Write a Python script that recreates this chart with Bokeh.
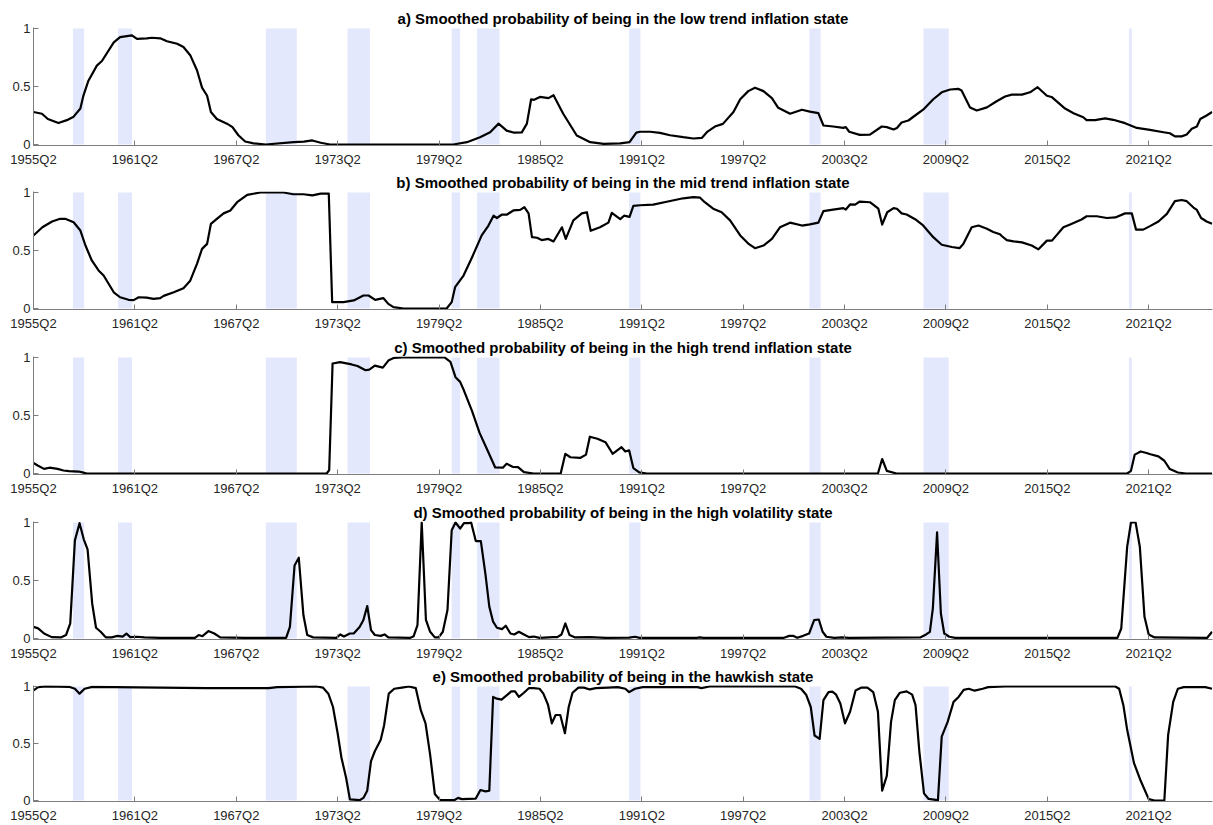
from bokeh.plotting import figure
from bokeh.layouts import column
from bokeh.models import Range1d, FixedTicker
from bokeh.embed import file_html
from bokeh.resources import INLINE

# x values are quarters elapsed since 1955Q2 (sample ends 2025Q1)
tick_labels = ["1955Q2", "1961Q2", "1967Q2", "1973Q2", "1979Q2", "1985Q2",
               "1991Q2", "1997Q2", "2003Q2", "2009Q2", "2015Q2", "2021Q2"]
sample_end = "2025Q1"

# recession periods (monthly dates, start, end)
rec_start = ["1957-08", "1960-04", "1969-01", "1973-11", "1980-01", "1981-07",
             "1990-07", "2001-03", "2007-12", "2020-02"]
rec_end = ["1958-04", "1961-02", "1970-11", "1975-03", "1980-07", "1982-11",
           "1991-03", "2001-11", "2009-06", "2020-04"]

titles = [
    "a) Smoothed probability of being in the low trend inflation state",
    "b) Smoothed probability of being in the mid trend inflation state",
    "c) Smoothed probability of being in the high trend inflation state",
    "d) Smoothed probability of being in the high volatility state",
    "e) Smoothed probability of being in the hawkish state",
]

low_trend = [(0, 0.28), (2, 0.265), (3.4, 0.22), (5.9, 0.185), (7.9, 0.21), (9.5, 0.24), (11.1, 0.31),
    (11.8, 0.42), (13.0, 0.55), (15.0, 0.68), (16.2, 0.72), (19.0, 0.88), (20.5, 0.925), (23.3, 0.94),
    (24.5, 0.91), (26.8, 0.915), (28, 0.92), (30, 0.915), (31.6, 0.89), (34, 0.868), (35.5, 0.84),
    (37.1, 0.77), (38.7, 0.64), (39.9, 0.49), (41.1, 0.42), (42, 0.28), (43.4, 0.22), (45.8, 0.18),
    (47.1, 0.15), (48.5, 0.08), (50.1, 0.026), (52.1, 0.01), (55, 0.0), (61.6, 0.02), (64, 0.025),
    (66, 0.035), (68, 0.015), (70.2, 0.0), (99.4, 0.0), (102.6, 0.02), (105.7, 0.063), (108.1, 0.106),
    (110.1, 0.18), (112, 0.12), (113.6, 0.103), (115.6, 0.105), (116.8, 0.18), (117.8, 0.39),
    (118.5, 0.385), (119.9, 0.41), (121.9, 0.40), (123.1, 0.425), (125.4, 0.265), (128.6, 0.078),
    (131.8, 0.02), (135, 0.005), (138.9, 0.01), (141.1, 0.02), (142.7, 0.103), (143.6, 0.11),
    (146, 0.11), (148.3, 0.10), (150.7, 0.08), (153.8, 0.063), (156.2, 0.052), (158.2, 0.057),
    (159.4, 0.106), (161.3, 0.155), (163.2, 0.178), (165.7, 0.28), (167.3, 0.39), (169.2, 0.46),
    (170.8, 0.49), (172.8, 0.46), (174.8, 0.40), (176.3, 0.316), (179.1, 0.265), (181.9, 0.30),
    (183.8, 0.284), (185.8, 0.27), (187, 0.164), (189.3, 0.155), (191.7, 0.143), (192.3, 0.15),
    (193.1, 0.11), (195.6, 0.083), (198, 0.085), (200.8, 0.155), (202, 0.15), (203.6, 0.13),
    (204.4, 0.143), (205.5, 0.19), (207.1, 0.207), (208.7, 0.25), (210.6, 0.30), (213, 0.39),
    (215, 0.45), (217, 0.474), (218.9, 0.48), (219.7, 0.465), (221.7, 0.32), (223.3, 0.293),
    (225.7, 0.32), (228, 0.373), (230, 0.414), (231.6, 0.43), (234, 0.43), (235.9, 0.45),
    (237.7, 0.494), (239.9, 0.42), (241, 0.41), (244.2, 0.31), (246.2, 0.27), (248.5, 0.235),
    (249.3, 0.21), (251.3, 0.21), (253.7, 0.225), (255.6, 0.213), (258.4, 0.184), (261.2, 0.143),
    (264.3, 0.126), (267.5, 0.106), (269, 0.097), (270.2, 0.07), (271.8, 0.07), (273, 0.086),
    (274.2, 0.135), (275.4, 0.155), (276.2, 0.22), (277.7, 0.25), (279, 0.28)]

mid_trend = [(0, 0.63), (2.1, 0.70), (4.4, 0.75), (6.3, 0.773), (7.5, 0.773), (9.5, 0.744), (11.1, 0.672),
    (12.3, 0.543), (13.8, 0.414), (15.4, 0.328), (16.6, 0.285), (19, 0.14), (20.5, 0.097), (22.5, 0.075),
    (23.7, 0.072), (24.9, 0.097), (26.8, 0.094), (28.4, 0.083), (30, 0.089), (30.8, 0.109), (33.2, 0.14),
    (35.5, 0.175), (37.1, 0.24), (38.7, 0.385), (39.9, 0.514), (41.1, 0.557), (42, 0.73), (43.4, 0.773),
    (45, 0.82), (46.6, 0.845), (48.2, 0.916), (50.6, 0.98), (53.7, 1.0), (59.2, 1.0), (61.5, 0.985),
    (63.9, 0.985), (66, 0.975), (68, 0.99), (69.9, 0.99), (70.7, 0.055), (73.4, 0.055), (75.8, 0.07),
    (78.1, 0.112), (79.3, 0.112), (80.9, 0.075), (82.8, 0.09), (84, 0.04), (85.2, 0.012), (87.6, 0.0),
    (97.8, 0.0), (99, 0.055), (99.8, 0.184), (101.8, 0.284), (103.8, 0.44), (106.1, 0.63), (107.7, 0.715),
    (108.9, 0.80), (109.7, 0.78), (110.9, 0.81), (112.1, 0.81), (113.6, 0.845), (115.2, 0.85),
    (116.2, 0.873), (117.2, 0.82), (118, 0.615), (119.2, 0.61), (120.3, 0.59), (121.9, 0.60),
    (123.1, 0.578), (125.1, 0.70), (126, 0.60), (127.8, 0.76), (129.8, 0.82), (131, 0.83), (131.9, 0.67),
    (134.1, 0.70), (136.1, 0.74), (136.9, 0.825), (138.9, 0.77), (139.8, 0.80), (141.1, 0.79),
    (142, 0.885), (143.6, 0.89), (146.7, 0.895), (149.9, 0.92), (153.8, 0.95), (156.2, 0.96),
    (157.8, 0.955), (158.9, 0.916), (160.9, 0.86), (162.9, 0.83), (164.9, 0.76), (167.3, 0.63),
    (169.2, 0.56), (170.8, 0.52), (172.8, 0.543), (174.8, 0.60), (176.7, 0.70), (179.1, 0.74),
    (181.9, 0.715), (183.8, 0.725), (185.8, 0.74), (187, 0.84), (189.3, 0.853), (191.7, 0.865),
    (192.3, 0.853), (193.3, 0.897), (194.5, 0.895), (195.6, 0.922), (198, 0.916), (200, 0.86),
    (200.9, 0.724), (202.1, 0.83), (203.6, 0.865), (204.4, 0.86), (205.5, 0.82), (206.7, 0.81),
    (208.7, 0.77), (210.6, 0.716), (213, 0.615), (215, 0.55), (217.4, 0.53), (219.2, 0.52),
    (220.1, 0.555), (222.1, 0.70), (223.7, 0.715), (225.7, 0.687), (227.2, 0.66), (228.8, 0.64),
    (229.2, 0.625), (230.4, 0.59), (232, 0.578), (234, 0.57), (236.3, 0.543), (237.9, 0.51),
    (239.9, 0.585), (241.1, 0.585), (243.8, 0.70), (245.4, 0.725), (248.1, 0.767), (249.3, 0.795),
    (251.7, 0.795), (254.1, 0.78), (256.1, 0.785), (258.4, 0.82), (260, 0.82), (261, 0.68),
    (262.7, 0.68), (264.3, 0.71), (266.3, 0.75), (268.3, 0.816), (270.2, 0.925), (271.8, 0.935),
    (273, 0.925), (274.6, 0.87), (275.4, 0.85), (276.4, 0.78), (277.7, 0.75), (279, 0.73)]

high_trend = [(0, 0.09), (1.1, 0.067), (2.5, 0.04), (3.8, 0.05), (5.7, 0.04), (7.1, 0.026), (8.4, 0.02),
    (10.7, 0.017), (11.6, 0.01), (12.6, 0.0), (69.4, 0.0), (70, 0.03), (70.8, 0.948), (72.6, 0.96),
    (75.3, 0.94), (76.7, 0.927), (78.6, 0.89), (79.5, 0.895), (80.8, 0.93), (82.7, 0.913), (84.1, 0.977),
    (85.4, 0.997), (87.2, 1.0), (97.3, 1.0), (98.7, 0.962), (99.9, 0.83), (101, 0.79), (101.9, 0.715),
    (103.8, 0.54), (105.6, 0.35), (107.6, 0.19), (109.3, 0.052), (111.1, 0.05), (112, 0.085),
    (113.4, 0.058), (114.7, 0.055), (116.1, 0.012), (118.4, 0.0), (124.8, 0.0), (125.9, 0.17),
    (127.1, 0.14), (129.4, 0.134), (130.8, 0.163), (131.7, 0.317), (133.5, 0.30), (135.4, 0.27),
    (137.1, 0.17), (139.2, 0.227), (140.1, 0.19), (141, 0.2), (142, 0.047), (143.4, 0.01), (145.2, 0.0),
    (199.9, 0.0), (200.9, 0.125), (202, 0.023), (204.3, 0.0), (258.9, 0.0), (259.8, 0.023),
    (260.7, 0.163), (262.1, 0.19), (263.5, 0.177), (264.4, 0.166), (266.3, 0.148), (267.7, 0.11),
    (269, 0.038), (270.9, 0.009), (272.8, 0.0), (279, 0.0)]

high_vol = [(0, 0.10), (1.1, 0.087), (2.5, 0.043), (4.3, 0.012), (6.6, 0.01), (7.7, 0.03), (8.7, 0.13),
    (9.8, 0.846), (10.9, 0.994), (11.9, 0.855), (12.8, 0.768), (13.9, 0.30), (14.8, 0.093), (15.9, 0.058),
    (17.1, 0.01), (18.5, 0.01), (19.9, 0.023), (21.1, 0.017), (22, 0.043), (22.9, 0.012), (24.5, 0.015),
    (26.3, 0.01), (30, 0.005), (38.2, 0.005), (39.1, 0.03), (40, 0.02), (41.4, 0.064), (42.8, 0.043),
    (44.2, 0.01), (50, 0.005), (59.8, 0.005), (60.7, 0.1), (61.8, 0.63), (62.8, 0.696), (63.9, 0.2),
    (64.8, 0.03), (66.2, 0.01), (71.7, 0.005), (72.6, 0.035), (73.5, 0.017), (74.9, 0.043), (75.8, 0.043),
    (77.2, 0.10), (78.1, 0.16), (79, 0.28), (79.9, 0.072), (80.8, 0.03), (82.2, 0.023), (83.1, 0.035),
    (84, 0.01), (89.1, 0.005), (90, 0.02), (90.9, 0.116), (91.9, 1.0), (92.9, 0.16), (93.9, 0.058),
    (95, 0.01), (95.9, 0.01), (96.9, 0.058), (98, 0.246), (99, 0.933), (99.9, 1.0), (101, 0.948),
    (101.9, 0.994), (103, 0.994), (103.6, 1.0), (104.7, 0.84), (105.9, 0.84), (107, 0.55), (107.9, 0.275),
    (108.8, 0.145), (109.7, 0.093), (110.9, 0.081), (111.8, 0.11), (112.9, 0.043), (113.8, 0.035),
    (114.9, 0.058), (116.1, 0.035), (117.3, 0.012), (118.4, 0.017), (119.8, 0.006), (123, 0.012),
    (124, 0.012), (125, 0.035), (125.9, 0.13), (126.9, 0.03), (128.1, 0.01), (131.7, 0.012),
    (135.5, 0.005), (141, 0.008), (142.4, 0.015), (143.5, 0.006), (157, 0.006), (157.7, 0.01),
    (158.6, 0.005), (177.5, 0.005), (178.9, 0.023), (179.8, 0.023), (180.8, 0.006), (182.2, 0.023),
    (183.6, 0.043), (184.8, 0.158), (185.9, 0.164), (186.8, 0.058), (187.7, 0.015), (189.6, 0.006),
    (191.4, 0.01), (193, 0.005), (209.9, 0.009), (211.3, 0.035), (212.2, 0.058), (212.9, 0.26),
    (213.9, 0.914), (214.8, 0.216), (215.6, 0.043), (216.8, 0.015), (218.2, 0.006), (256.6, 0.005),
    (257.5, 0.086), (258.9, 0.79), (259.8, 1.0), (260.9, 1.0), (261.9, 0.79), (263, 0.187), (264, 0.035),
    (265.4, 0.009), (277.8, 0.005), (279, 0.058)]

hawkish = [(0, 0.965), (1.1, 0.994), (2.9, 1.0), (8.4, 0.997), (9.8, 0.98), (10.9, 0.937), (12.1, 0.98),
    (13.9, 0.997), (30, 0.99), (41, 0.985), (55.7, 0.985), (57.7, 0.995), (67.1, 1.0), (68.5, 0.99),
    (69.8, 0.937), (70.9, 0.82), (72, 0.59), (72.9, 0.375), (74, 0.2), (74.9, 0.01), (77.2, 0.003),
    (78.1, 0.023), (79, 0.086), (79.9, 0.346), (80.8, 0.432), (82.2, 0.533), (83, 0.66), (84.1, 0.937),
    (85.4, 0.98), (87.2, 0.99), (88.9, 1.0), (90.5, 0.985), (91.7, 0.79), (92.8, 0.677), (93.9, 0.40),
    (95, 0.058), (96.2, 0.006), (99.6, 0.003), (100.5, 0.023), (101.4, 0.012), (104.7, 0.017),
    (105.8, 0.092), (107, 0.08), (107.9, 0.086), (108.8, 0.908), (109.7, 0.893), (110.8, 0.885),
    (112, 0.922), (113.1, 0.957), (114, 0.957), (114.9, 0.908), (116.1, 0.945), (117.3, 0.986),
    (118.4, 0.986), (119.8, 0.98), (120.7, 0.937), (121.8, 0.84), (122.7, 0.677), (123.6, 0.75),
    (124.7, 0.75), (125.8, 0.59), (126.7, 0.82), (127.6, 0.945), (129, 0.99), (130.3, 0.99),
    (131.7, 0.974), (133.1, 0.985), (136, 0.99), (138.3, 0.994), (140.1, 0.98), (141, 0.95),
    (142.4, 0.98), (144.2, 0.994), (157.2, 0.994), (158.1, 0.986), (160, 1.0), (180.3, 1.0),
    (181.7, 0.98), (182.9, 0.928), (184, 0.82), (184.9, 0.57), (186.1, 0.54), (187, 0.88), (188.2, 0.95),
    (189.1, 0.955), (190, 0.928), (191, 0.85), (192.1, 0.677), (193.3, 0.778), (194.6, 0.965),
    (196, 0.99), (197.4, 0.99), (198.8, 0.95), (199.9, 0.778), (200.9, 0.086), (202, 0.216), (203, 0.69),
    (203.9, 0.88), (205.1, 0.945), (206.7, 0.957), (208, 0.928), (208.8, 0.836), (209.7, 0.432),
    (210.8, 0.063), (211.9, 0.014), (213.6, 0.006), (214.1, 0.0), (215, 0.56), (216.4, 0.69),
    (217.8, 0.865), (219, 0.908), (220.2, 0.97), (221.4, 0.98), (222.8, 0.963), (224.7, 0.98),
    (226, 0.994), (230, 1.0), (256.1, 1.0), (257, 0.98), (258, 0.836), (258.9, 0.62), (260.5, 0.33),
    (262.1, 0.173), (264, 0.012), (265.4, 0.0), (267.7, 0.0), (268.6, 0.576), (269.8, 0.865),
    (270.9, 0.98), (272.3, 0.994), (277.4, 0.994), (279, 0.98)]

series = [low_trend, mid_trend, high_trend, high_vol, hawkish]


def q_index(lbl):
    return (int(lbl[:4]) - 1955) * 4 + int(lbl[-1]) - 2


def month_to_q(s):
    y, m = s.split("-")
    return (int(y) + (int(m) - 1) / 12.0 - 1955.25) * 4


tick_pos = [q_index(t) for t in tick_labels]
x_end = q_index(sample_end) + 0.1
rl = [month_to_q(s) for s in rec_start]
rr = [month_to_q(s) for s in rec_end]

FONT = "Liberation Sans"
AX = "#7d7d7d"
SHADE = "#E3E8FD"
FRAME_H = 118
tops = [27, 22, 23, 23, 22]
bottoms = [24, 24, 24, 24, 22]

figs = []
for i, (title, data) in enumerate(zip(titles, series)):
    h = tops[i] + FRAME_H + bottoms[i]
    p = figure(width=1213, height=h, output_backend="svg", toolbar_location=None,
               x_range=Range1d(0, x_end), y_range=Range1d(-0.0085, 1.0085),
               min_border_left=33, min_border_right=1,
               min_border_top=tops[i], min_border_bottom=bottoms[i])
    p.title.text = title
    p.title.align = "center"
    p.title.text_font = FONT
    p.title.text_font_size = "15px"
    p.title.text_font_style = "bold"
    p.title.text_color = "#000000"
    p.title.standoff = 1
    p.outline_line_color = None
    p.xgrid.grid_line_color = None
    p.ygrid.grid_line_color = None
    p.background_fill_color = "white"
    p.border_fill_color = "white"

    p.quad(left=rl, right=rr, bottom=0, top=1, fill_color=SHADE, line_color=None)
    xs = [d[0] for d in data]
    ys = [d[1] for d in data]
    p.line(xs, ys, line_color="black", line_width=2.2, line_join="round")

    xa = p.xaxis[0]
    xa.ticker = FixedTicker(ticks=tick_pos)
    xa.major_label_overrides = {tp: lb for tp, lb in zip(tick_pos, tick_labels)}
    ya = p.yaxis[0]
    ya.ticker = FixedTicker(ticks=[0, 0.5, 1])
    ya.major_label_overrides = {0: "0", 0.5: "0.5", 1: "1"}
    for ax, so in ((xa, 6), (ya, 3)):
        ax.axis_line_color = AX
        ax.axis_line_width = 1
        ax.major_tick_line_color = AX
        ax.major_tick_in = 5
        ax.major_tick_out = 0
        ax.minor_tick_line_color = None
        ax.major_label_text_font = FONT
        ax.major_label_text_font_size = "13px"
        ax.major_label_text_color = "#262626"
        ax.major_label_standoff = so
    figs.append(p)

layout = column(*figs, spacing=0)
open("out.html", "w").write(file_html(layout, INLINE))
